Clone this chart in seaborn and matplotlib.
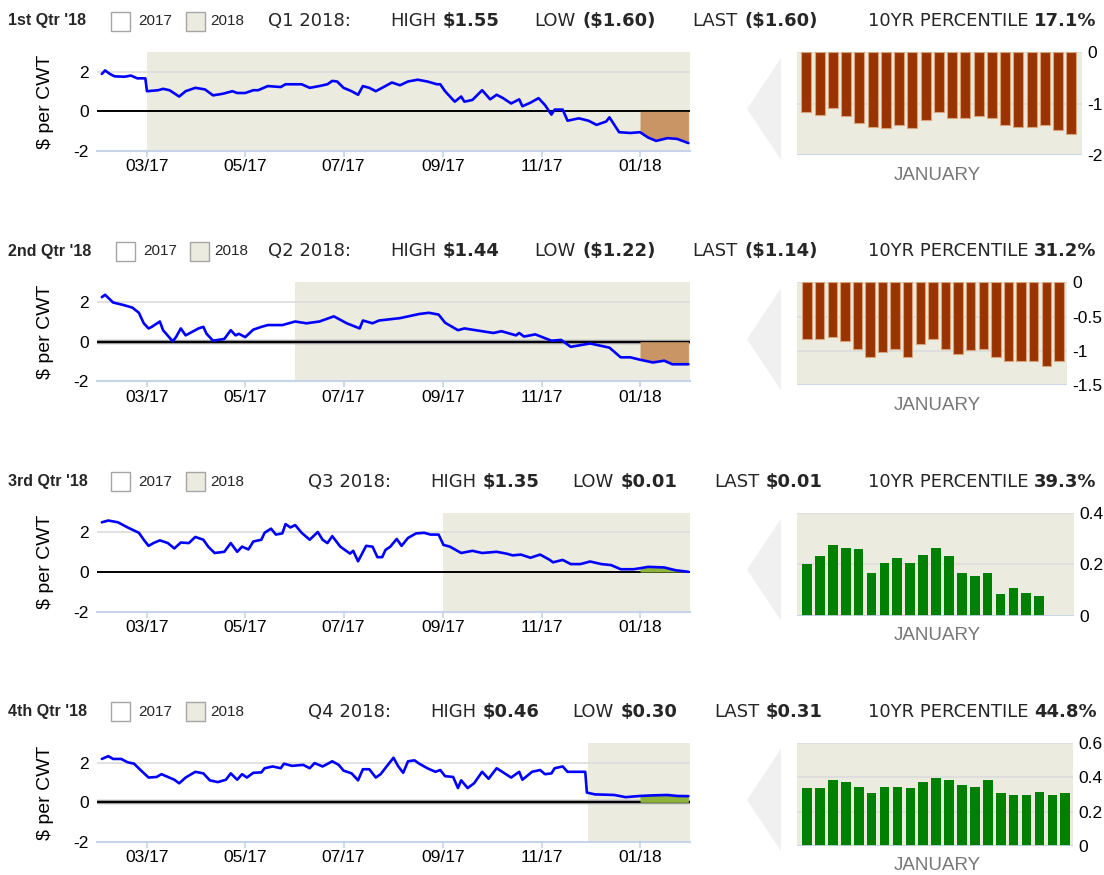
import numpy as np
import pandas as pd
import matplotlib
matplotlib.use("Agg")
import matplotlib.pyplot as plt
from matplotlib.patches import Rectangle, Polygon
import seaborn as sns

# ---------------- data ----------------
START = pd.Timestamp("2017-02-01")

q1_days = [0, 2, 5, 8, 14, 18, 22, 27, 28, 35, 38, 42, 48, 52, 58, 64, 69, 75, 81, 84, 89, 94, 97,
           103, 111, 114, 124, 129, 135, 140, 143, 146, 150, 155, 159, 162, 166, 170, 176, 180, 185,
           190, 196, 202, 208, 210, 213, 219, 223, 225, 230, 236, 241, 245, 249, 254, 259, 261, 266,
           271, 275, 279, 281, 286, 289, 296, 302, 307, 313, 315, 321, 328, 334, 339, 344, 351, 357, 364]
q1_vals = [1.89, 2.07, 1.89, 1.77, 1.75, 1.81, 1.67, 1.67, 1.02, 1.07, 1.14, 1.07, 0.75, 1.02, 1.19,
           1.11, 0.81, 0.89, 1.02, 0.93, 0.93, 1.07, 1.07, 1.28, 1.23, 1.37, 1.37, 1.19, 1.28, 1.37,
           1.54, 1.51, 1.19, 1.02, 0.84, 1.28, 1.19, 1.02, 1.28, 1.46, 1.32, 1.51, 1.60, 1.51, 1.37,
           1.37, 1.02, 0.49, 0.75, 0.49, 0.58, 1.07, 0.61, 0.84, 0.67, 0.40, 0.61, 0.26, 0.44, 0.67,
           0.32, -0.16, 0.09, 0.09, -0.47, -0.35, -0.47, -0.68, -0.51, -0.30, -1.05, -1.09, -1.05,
           -1.32, -1.49, -1.35, -1.39, -1.60]

q2_days = [0, 2, 7, 14, 19, 23, 26, 29, 31, 36, 38, 44, 46, 49, 52, 60, 63, 65, 69, 76, 80, 83, 85,
           89, 94, 99, 103, 112, 120, 127, 135, 144, 152, 160, 162, 168, 172, 185, 197, 203, 209, 213,
           221, 225, 243, 248, 257, 259, 262, 269, 279, 285, 291, 303, 315, 322, 328, 334, 342, 349,
           354, 361, 364]
q2_vals = [2.25, 2.37, 1.98, 1.84, 1.72, 1.46, 0.93, 0.67, 0.75, 1.02, 0.58, 0.02, 0.23, 0.67, 0.32,
           0.67, 0.75, 0.40, 0.05, 0.14, 0.58, 0.32, 0.40, 0.23, 0.61, 0.75, 0.84, 0.84, 1.02, 0.93,
           1.02, 1.28, 0.93, 0.67, 1.07, 0.93, 1.07, 1.19, 1.40, 1.46, 1.37, 0.96, 0.58, 0.67, 0.44,
           0.53, 0.32, 0.44, 0.26, 0.37, 0.05, 0.09, -0.26, -0.09, -0.30, -0.79, -0.79, -0.91, -1.05,
           -0.96, -1.14, -1.14, -1.14]

q3_days = [0, 4, 10, 16, 23, 26, 29, 32, 36, 41, 45, 49, 54, 58, 63, 66, 70, 76, 80, 84, 87, 91, 94,
           99, 101, 105, 108, 112, 114, 117, 120, 124, 129, 134, 137, 140, 143, 148, 154, 156, 159,
           164, 168, 171, 174, 176, 179, 183, 186, 190, 195, 200, 204, 209, 212, 216, 223, 230, 236,
           245, 251, 255, 260, 266, 272, 278, 280, 286, 291, 297, 303, 310, 316, 322, 330, 334, 339,
           349, 356, 364]
q3_vals = [2.51, 2.60, 2.51, 2.25, 1.98, 1.63, 1.32, 1.46, 1.60, 1.46, 1.19, 1.49, 1.46, 1.77, 1.63,
           1.28, 0.96, 1.02, 1.46, 1.02, 1.28, 1.14, 1.54, 1.63, 1.98, 2.19, 1.89, 1.95, 2.42, 2.25,
           2.37, 1.98, 1.63, 2.02, 1.63, 1.46, 1.81, 1.28, 0.93, 1.07, 0.54, 1.32, 1.28, 0.75, 0.75,
           1.11, 1.28, 1.67, 1.32, 1.72, 1.95, 1.98, 1.89, 1.89, 1.37, 1.28, 0.96, 1.07, 0.96, 1.02,
           0.93, 0.84, 0.88, 0.72, 0.88, 0.61, 0.49, 0.61, 0.40, 0.40, 0.53, 0.40, 0.35, 0.14, 0.14,
           0.19, 0.26, 0.23, 0.09, 0.01]

q4_days = [0, 4, 7, 12, 16, 20, 24, 29, 34, 37, 41, 45, 48, 52, 58, 63, 67, 72, 77, 80, 84, 87, 90,
           94, 99, 101, 106, 111, 113, 118, 125, 129, 132, 137, 143, 147, 150, 155, 159, 162, 166,
           170, 173, 177, 181, 184, 187, 190, 194, 197, 202, 207, 210, 213, 218, 221, 223, 227, 231,
           236, 240, 245, 250, 254, 259, 261, 267, 272, 275, 279, 281, 286, 289, 293, 300, 301, 306,
           318, 325, 334, 342, 351, 357, 364]
q4_vals = [2.19, 2.33, 2.19, 2.19, 2.02, 1.95, 1.63, 1.25, 1.28, 1.42, 1.28, 1.14, 0.96, 1.25, 1.54,
           1.46, 1.11, 1.02, 1.14, 1.46, 1.14, 1.42, 1.25, 1.49, 1.51, 1.72, 1.81, 1.72, 1.95, 1.84,
           1.89, 1.72, 1.98, 1.81, 2.07, 1.89, 1.60, 1.46, 1.11, 1.67, 1.67, 1.25, 1.42, 1.84, 2.25,
           1.81, 1.49, 2.07, 2.12, 1.95, 1.72, 1.54, 1.63, 1.32, 1.28, 0.72, 1.11, 0.72, 0.96, 1.54,
           1.19, 1.72, 1.46, 1.25, 1.54, 1.14, 1.54, 1.63, 1.42, 1.46, 1.72, 1.81, 1.54, 1.54, 1.54,
           0.49, 0.40, 0.37, 0.26, 0.32, 0.35, 0.37, 0.32, 0.31]

shade_starts = ["2017-03-01", "2017-06-01", "2017-09-01", "2017-11-30"]

bars_q1 = [-1.16, -1.23, -1.09, -1.25, -1.38, -1.45, -1.48, -1.42, -1.48, -1.32, -1.16, -1.29, -1.29,
           -1.25, -1.29, -1.42, -1.45, -1.45, -1.42, -1.51, -1.60]
bars_q2 = [-0.82, -0.82, -0.80, -0.85, -0.97, -1.09, -1.02, -0.97, -1.09, -0.90, -0.82, -0.97, -1.04,
           -0.99, -0.97, -1.09, -1.14, -1.14, -1.14, -1.22, -1.14]
bars_q3 = [0.20, 0.23, 0.275, 0.263, 0.259, 0.165, 0.205, 0.224, 0.205, 0.236, 0.263, 0.232, 0.165,
           0.153, 0.165, 0.083, 0.106, 0.087, 0.075, np.nan, np.nan]
bars_q4 = [0.34, 0.34, 0.385, 0.37, 0.346, 0.31, 0.346, 0.346, 0.34, 0.37, 0.396, 0.385, 0.357, 0.346,
           0.385, 0.31, 0.297, 0.297, 0.316, 0.297, 0.31]

quarter_names = ["1st Qtr '18", "2nd Qtr '18", "3rd Qtr '18", "4th Qtr '18"]
contract_labels = ["Q1 2018:", "Q2 2018:", "Q3 2018:", "Q4 2018:"]
highs = ["$1.55", "$1.44", "$1.35", "$0.46"]
lows = ["($1.60)", "($1.22)", "$0.01", "$0.30"]
lasts = ["($1.60)", "($1.14)", "$0.01", "$0.31"]
percentiles = ["17.1%", "31.2%", "39.3%", "44.8%"]

bar_ticks = [[0, -1, -2], [0, -0.5, -1, -1.5], [0, 0.2, 0.4], [0, 0.2, 0.4, 0.6]]
bar_ticklabels = [["0", "-1", "-2"], ["0", "-0.5", "-1", "-1.5"], ["0", "0.2", "0.4"], ["0", "0.2", "0.4", "0.6"]]
bar_ylims = [(-2, 0), (-1.5, 0), (0, 0.4), (0, 0.6)]
month_ticks = ["2017-03-01", "2017-05-01", "2017-07-01", "2017-09-01", "2017-11-01", "2018-01-01"]
month_labels = ["03/17", "05/17", "07/17", "09/17", "11/17", "01/18"]

# ---------------- style ----------------
sns.set_theme(style="white")
plt.rcParams["font.family"] = ["Liberation Sans", "DejaVu Sans"]

W, H = 1104, 875
BEIGE = "#ecebe0"
BLUE_AX = "#c5d4e8"
GRID = "#dcdcdc"
BROWN = "#993300"
GREEN = "#008000"

fig = plt.figure(figsize=(W / 100, H / 100), dpi=100)
fig.patch.set_facecolor("white")


def px_rect(left, top, w, h):
    return [left / W, 1 - (top + h) / H, w / W, h / H]


series = [(q1_days, q1_vals), (q2_days, q2_vals), (q3_days, q3_vals), (q4_days, q4_vals)]
bars = [bars_q1, bars_q2, bars_q3, bars_q4]
fill_colors = ["#c99564", "#c99564", "#8fb43c", "#8fb43c"]
bar_colors = [BROWN, BROWN, GREEN, GREEN]
bar_edges = ["#d9a47a", "#d9a47a", "none", "none"]
bar_right = [1082, 1067, 1074, 1073]
bar_xlims = [(-0.7, 20.8), (-0.8, 20.65), (-0.78, 20.7), (-0.78, 20.6)]
row_step = 230.3

x_start = pd.Timestamp("2017-01-29")
x_end = pd.Timestamp("2018-02-01")
jan = pd.Timestamp("2018-01-01")

ov = fig.add_axes([0, 0, 1, 1], zorder=-1)
ov.set_xlim(0, W)
ov.set_ylim(H, 0)
ov.axis("off")

for i in range(4):
    off = i * row_step
    days, vals = series[i]
    df = pd.DataFrame({"date": START + pd.to_timedelta(days, unit="D"), "val": vals})

    # ---- line chart ----
    ax = fig.add_axes(px_rect(97, 52 + off, 593, 99))
    ax.set_facecolor("white")
    ax.axvspan(pd.Timestamp(shade_starts[i]), x_end, color=BEIGE, lw=0, zorder=0)
    ax.axhline(2, color=GRID, lw=1.2, zorder=1)
    if i in (1, 3):
        ax.axhline(0, color="#9a9a9a", lw=3.2, zorder=2)
    ax.axhline(0, color="black", lw=1.4, zorder=2)
    m = df["date"] >= jan
    ax.fill_between(df.loc[m, "date"], 0, df.loc[m, "val"], color=fill_colors[i], lw=0, zorder=3)
    sns.lineplot(data=df, x="date", y="val", ax=ax, color="#0000ff", lw=1.9, zorder=4)
    ax.set_xlim(x_start, x_end)
    ax.set_ylim(-2, 3)
    ax.set_yticks([-2, 0, 2])
    ax.set_yticklabels(["-2", "0", "2"])
    ax.set_xticks([pd.Timestamp(t) for t in month_ticks])
    ax.set_xticklabels(month_labels)
    for s in ["top", "right", "left"]:
        ax.spines[s].set_visible(False)
    ax.spines["bottom"].set_color(BLUE_AX)
    ax.spines["bottom"].set_linewidth(1.5)
    ax.tick_params(axis="x", direction="out", length=4.5, width=1.2, color=BLUE_AX,
                   labelsize=12.5, labelcolor="black", pad=1.5, bottom=True)
    ax.tick_params(axis="y", length=0, labelsize=12.5, labelcolor="black", pad=6)
    ax.set_xlabel("")
    ax.set_ylabel("$ per CWT", fontsize=14, color="black")
    ax.yaxis.set_label_coords(-0.072, 0.5)

    # ---- bar chart ----
    bx = fig.add_axes(px_rect(797, 52 + off, bar_right[i] - 797, 103))
    bx.set_facecolor(BEIGE)
    bdf = pd.DataFrame({"day": list(range(1, 22)), "val": bars[i]})
    sns.barplot(data=bdf, x="day", y="val", ax=bx, color=bar_colors[i], saturation=1,
                width=0.75, edgecolor=bar_edges[i], linewidth=0.8, zorder=3)
    bx.set_xlim(*bar_xlims[i])
    bx.set_ylim(*bar_ylims[i])
    lo, hi = bar_ylims[i]
    for t in bar_ticks[i]:
        if t != lo:
            bx.axhline(t, color=GRID, lw=1.2, zorder=1)
    bx.axhline(lo, color=BLUE_AX, lw=2, zorder=4)
    bx.set_yticks(bar_ticks[i])
    bx.set_yticklabels(bar_ticklabels[i])
    bx.yaxis.tick_right()
    bx.tick_params(axis="y", length=0, labelsize=12.5, labelcolor="black", pad=4)
    bx.set_xticks([])
    bx.set_xlabel("")
    bx.set_ylabel("")
    for s in bx.spines.values():
        s.set_visible(False)
    ov.text(937, 175 + off, "JANUARY", ha="center", va="center", fontsize=13.5, color="#777777")

    # ---- arrow triangle ----
    ov.add_patch(Polygon([[781, 58 + off], [781, 160 + off], [747, 109 + off]],
                         closed=True, facecolor="#f0f0f0", edgecolor="none"))

    # ---- header ----
    hy = 21 + off
    ov.text(8, hy, quarter_names[i], ha="left", va="center", fontsize=11.5, fontweight="bold")
    b1 = 111 if i != 1 else 116
    b2 = 186 if i != 1 else 190
    ov.add_patch(Rectangle((b1, hy - 9.5), 19, 19, facecolor="white", edgecolor="#a5a5a5", lw=1))
    ov.text(b1 + 27, hy, "2017", ha="left", va="center", fontsize=11)
    ov.add_patch(Rectangle((b2, hy - 9.5), 19, 19, facecolor=BEIGE, edgecolor="#a5a5a5", lw=1))
    ov.text(b2 + 24, hy, "2018", ha="left", va="center", fontsize=11)

    hf = dict(ha="right", va="center", fontsize=13, family="DejaVu Sans")
    bf = dict(ha="left", va="center", fontsize=13, family="DejaVu Sans", fontweight="bold")
    if i < 2:
        cx, vx = 268, (443, 583, 745)
    else:
        cx, vx = 308, (483, 621, 766)
    ov.text(cx, hy, contract_labels[i], ha="left", va="center", fontsize=13, family="DejaVu Sans")
    ov.text(vx[0] - 7, hy, "HIGH", **hf)
    ov.text(vx[0], hy, highs[i], **bf)
    ov.text(vx[1] - 7, hy, "LOW", **hf)
    ov.text(vx[1], hy, lows[i], **bf)
    ov.text(vx[2] - 7, hy, "LAST", **hf)
    ov.text(vx[2], hy, lasts[i], **bf)
    ov.text(1028, hy, "10YR PERCENTILE", **hf)
    ov.text(1034, hy, percentiles[i], **bf)

fig.savefig("out.png", dpi=100, facecolor="white")
